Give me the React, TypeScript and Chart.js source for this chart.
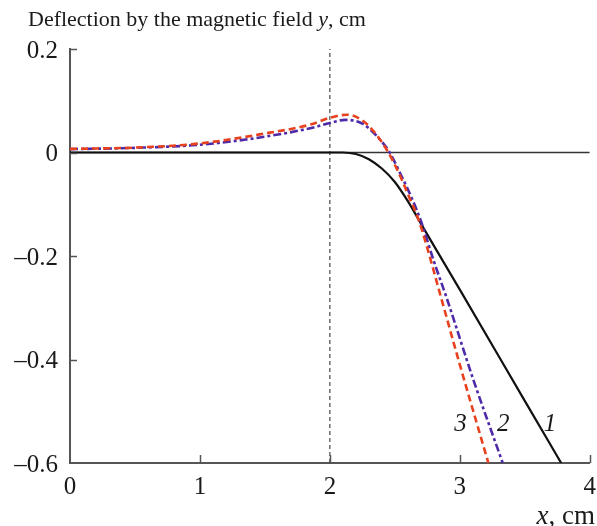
import React, { useEffect, useRef } from 'react';
import { Chart, registerables } from 'chart.js';

Chart.register(...registerables);

// ---- axis configuration ----
const X_MIN = 0;
const X_MAX = 4;
const Y_MIN = -0.6;
const Y_MAX = 0.2;
const X_TICKS = [0, 1, 2, 3, 4];
const X_TICK_LABELS = ['0', '1', '2', '3', '4'];
const Y_TICKS = [0.2, 0, -0.2, -0.4, -0.6];
const Y_TICK_LABELS = ['0.2', '0', '–0.2', '–0.4', '–0.6'];
const FIELD_EDGE_X = 2;

// ---- curve 1 (black solid) ----
const CURVE1_X = [0, 0.5, 1, 1.5, 2, 2.1, 2.2, 2.3, 2.4, 2.5, 2.6, 2.7, 2.8, 3.0, 3.5, 3.78];
const CURVE1_Y = [0, 0, 0, 0, 0, 0, -0.003, -0.013, -0.031, -0.057, -0.094, -0.137, -0.18, -0.265, -0.48, -0.6];

// ---- curve 2 (blue dash-dot) ----
const CURVE2_X = [0, 0.5, 1.0, 1.46, 1.85, 2.0, 2.12, 2.25, 2.36, 2.46, 2.55, 2.63, 2.7, 2.8, 2.9, 3.1, 3.33];
const CURVE2_Y = [0.0065, 0.009, 0.015, 0.029, 0.047, 0.057, 0.063, 0.056, 0.032, 0.0, -0.045, -0.088, -0.132, -0.21, -0.282, -0.436, -0.6];

// ---- curve 3 (red dashed) ----
const CURVE3_X = [0, 0.5, 1.0, 1.46, 1.85, 2.0, 2.13, 2.25, 2.35, 2.45, 2.54, 2.61, 2.68, 2.75, 2.85, 3.0, 3.22];
const CURVE3_Y = [0.007, 0.0095, 0.0175, 0.035, 0.054, 0.067, 0.073, 0.062, 0.037, 0.0, -0.045, -0.086, -0.128, -0.185, -0.275, -0.41, -0.6];

// ---- curve labels ----
const CURVE_LABELS = ['1', '2', '3'];
const CURVE_LABEL_X = [3.695, 3.335, 3.005];
const CURVE_LABEL_Y = -0.52;

const TITLE_RUNS = [
  { text: 'Deflection by the magnetic field ', italic: false },
  { text: 'y', italic: true },
  { text: ', cm', italic: false },
];
const X_TITLE_RUNS = [
  { text: 'x', italic: true },
  { text: ', cm', italic: false },
];

const FONT_FAMILY = '"Liberation Serif", "Times New Roman", serif';
const TITLE_SIZE = 22;
const TICK_SIZE = 25;
const XTITLE_SIZE = 27;
const LABEL_SIZE = 25;
const TEXT_COLOR = '#1a1a1a';
const AXIS_COLOR = '#555555';

function zip(xs: number[], ys: number[]) {
  return xs.map((x, i) => ({ x, y: ys[i] }));
}

function drawRuns(
  ctx: CanvasRenderingContext2D,
  runs: { text: string; italic: boolean }[],
  size: number,
  x: number,
  y: number,
  align: 'left' | 'right'
) {
  const fonts = runs.map((r) => `${r.italic ? 'italic ' : ''}${size}px ${FONT_FAMILY}`);
  const widths = runs.map((r, i) => {
    ctx.font = fonts[i];
    return ctx.measureText(r.text).width;
  });
  const total = widths.reduce((a, b) => a + b, 0);
  let cx = align === 'left' ? x : x - total;
  ctx.textAlign = 'left';
  ctx.textBaseline = 'alphabetic';
  runs.forEach((r, i) => {
    ctx.font = fonts[i];
    ctx.fillText(r.text, cx, y);
    cx += widths[i];
  });
}

const decorPlugin = {
  id: 'decor',
  afterDraw(chart: any) {
    const { ctx } = chart;
    const xs = chart.scales.x;
    const ys = chart.scales.y;
    ctx.save();
    // inward tick marks
    ctx.strokeStyle = AXIS_COLOR;
    ctx.lineWidth = 1.5;
    X_TICKS.forEach((v) => {
      if (v === X_MIN) return;
      const px = Math.round(xs.getPixelForValue(v)) + 0.5;
      ctx.beginPath();
      ctx.moveTo(px, ys.bottom);
      ctx.lineTo(px, ys.bottom - 8);
      ctx.stroke();
    });
    Y_TICKS.forEach((v) => {
      if (v === Y_MIN) return;
      const py = Math.round(ys.getPixelForValue(v)) + 0.5;
      ctx.beginPath();
      ctx.moveTo(xs.left, py);
      ctx.lineTo(xs.left + 7, py);
      ctx.stroke();
    });
    ctx.fillStyle = TEXT_COLOR;
    // title
    drawRuns(ctx, TITLE_RUNS, TITLE_SIZE, 28, 26, 'left');
    // x axis title
    drawRuns(ctx, X_TITLE_RUNS, XTITLE_SIZE, 595, 524, 'right');
    // curve labels
    ctx.font = `italic ${LABEL_SIZE}px ${FONT_FAMILY}`;
    ctx.textAlign = 'center';
    ctx.textBaseline = 'alphabetic';
    CURVE_LABELS.forEach((t, i) => {
      const px = xs.getPixelForValue(CURVE_LABEL_X[i]);
      const py = ys.getPixelForValue(CURVE_LABEL_Y) + 9;
      ctx.fillText(t, px, py);
    });
    ctx.restore();
  },
};

export default function App() {
  const canvasRef = useRef<HTMLCanvasElement | null>(null);

  useEffect(() => {
    if (!canvasRef.current) return;
    const chart = new Chart(canvasRef.current, {
      type: 'line',
      data: {
        datasets: [
          {
            label: '3',
            data: zip(CURVE3_X, CURVE3_Y),
            borderColor: '#e8411e',
            borderWidth: 2.6,
            borderDash: [7, 4],
            pointRadius: 0,
            cubicInterpolationMode: 'monotone',
            order: 1,
          },
          {
            label: '2',
            data: zip(CURVE2_X, CURVE2_Y),
            borderColor: '#4f2aa8',
            borderWidth: 2.6,
            borderDash: [8, 3, 3, 3],
            pointRadius: 0,
            cubicInterpolationMode: 'monotone',
            order: 2,
          },
          {
            label: '1',
            data: zip(CURVE1_X, CURVE1_Y),
            borderColor: '#111111',
            borderWidth: 2.2,
            pointRadius: 0,
            cubicInterpolationMode: 'monotone',
            order: 3,
          },
          {
            label: 'zero',
            data: [
              { x: X_MIN, y: 0 },
              { x: X_MAX, y: 0 },
            ],
            borderColor: '#333333',
            borderWidth: 1.3,
            pointRadius: 0,
            order: 10,
          },
          {
            label: 'edge',
            data: [
              { x: FIELD_EDGE_X, y: Y_MIN },
              { x: FIELD_EDGE_X, y: Y_MAX },
            ],
            borderColor: '#222222',
            borderWidth: 1,
            borderDash: [4, 3],
            pointRadius: 0,
            order: 11,
          },
        ],
      },
      options: {
        animation: false,
        responsive: false,
        maintainAspectRatio: false,
        layout: { padding: { left: 0, top: 49, right: 5, bottom: 0 } },
        plugins: { legend: { display: false }, tooltip: { enabled: false }, title: { display: false } },
        scales: {
          x: {
            type: 'linear',
            min: X_MIN,
            max: X_MAX,
            grid: { display: false },
            border: { display: true, color: AXIS_COLOR, width: 2 },
            afterBuildTicks: (s: any) => {
              s.ticks = X_TICKS.map((v) => ({ value: v }));
            },
            afterFit: (s: any) => {
              s.height = 63;
            },
            ticks: {
              padding: 1,
              maxRotation: 0,
              autoSkip: false,
              color: TEXT_COLOR,
              font: { family: FONT_FAMILY, size: TICK_SIZE },
              callback: (v: any) => {
                const i = X_TICKS.findIndex((t) => Math.abs(t - Number(v)) < 1e-9);
                return i >= 0 ? X_TICK_LABELS[i] : '';
              },
            },
          },
          y: {
            type: 'linear',
            min: Y_MIN,
            max: Y_MAX,
            grid: { display: false },
            border: { display: true, color: AXIS_COLOR, width: 2 },
            afterBuildTicks: (s: any) => {
              s.ticks = Y_TICKS.map((v) => ({ value: v }));
            },
            afterFit: (s: any) => {
              s.width = 70;
            },
            ticks: {
              padding: 4,
              labelOffset: 2,
              autoSkip: false,
              color: TEXT_COLOR,
              font: { family: FONT_FAMILY, size: TICK_SIZE },
              callback: (v: any) => {
                const i = Y_TICKS.findIndex((t) => Math.abs(t - Number(v)) < 1e-9);
                return i >= 0 ? Y_TICK_LABELS[i] : '';
              },
            },
          },
        },
      },
      plugins: [decorPlugin],
    });
    return () => chart.destroy();
  }, []);

  return (
    <div style={{ position: 'fixed', left: 0, top: 0, width: 597, height: 526, background: '#ffffff' }}>
      <canvas ref={canvasRef} width={597} height={526} style={{ display: 'block', width: 597, height: 526 }} />
    </div>
  );
}
